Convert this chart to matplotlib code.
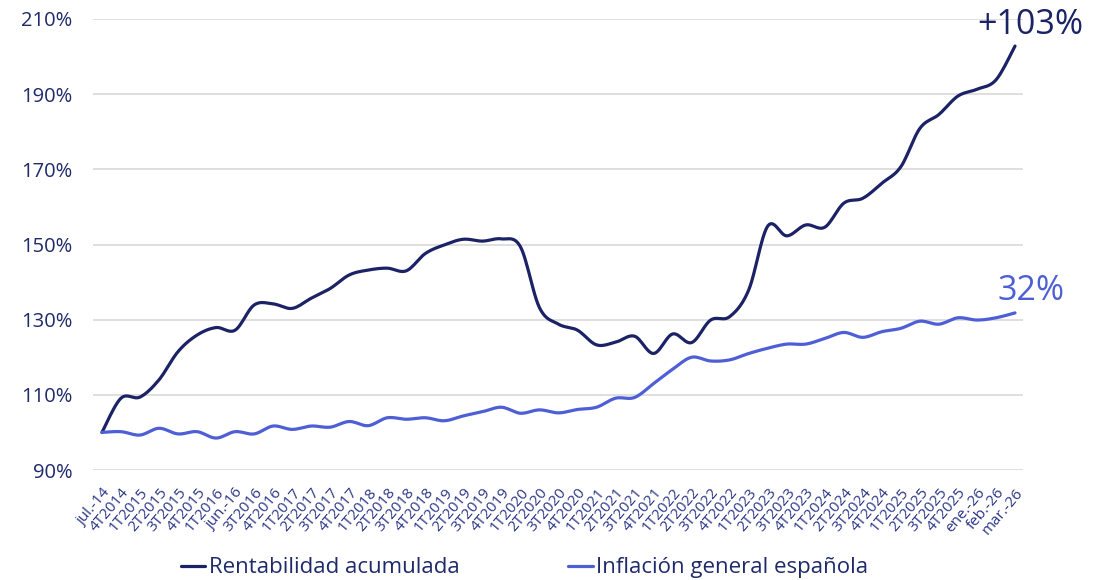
import numpy as np
import matplotlib
matplotlib.use("Agg")
import matplotlib.pyplot as plt

plt.rcParams['font.family'] = ['Open Sans', 'DejaVu Sans']

labels = ["jul.-14", "4T2014", "1T2015", "2T2015", "3T2015", "4T2015", "1T2016", "jun.-16",
          "3T2016", "4T2016", "1T2017", "2T2017", "3T2017", "4T2017", "1T2018", "2T2018",
          "3T2018", "4T2018", "1T2019", "2T2019", "3T2019", "4T2019", "1T2020", "2T2020",
          "3T2020", "4T2020", "1T2021", "2T2021", "3T2021", "4T2021", "1T2022", "2T2022",
          "3T2022", "4T2022", "1T2023", "2T2023", "3T2023", "4T2023", "1T2024", "2T2024",
          "3T2024", "4T2024", "1T2025", "2T2025", "3T2025", "4T2025", "ene.-26", "feb.-26", "mar.-26"]

rentabilidad = [100.0, 109.1, 109.4, 114.0, 121.5, 125.9, 127.9, 127.2, 133.9, 134.2,
                133.0, 135.7, 138.3, 141.9, 143.2, 143.7, 143.0, 147.6, 149.9, 151.4,
                150.9, 151.5, 149.4, 133.2, 128.8, 127.2, 123.3, 124.0, 125.6, 121.0,
                126.2, 123.9, 129.9, 130.8, 137.9, 154.9, 152.3, 155.2, 154.6, 161.0,
                162.3, 166.3, 170.7, 180.9, 184.6, 189.5, 191.3, 193.8, 202.8]

inflacion = [100.0, 100.2, 99.3, 101.1, 99.6, 100.2, 98.5, 100.2, 99.6, 101.7,
             100.8, 101.7, 101.4, 102.9, 101.8, 103.9, 103.5, 103.9, 103.1, 104.4,
             105.5, 106.7, 105.1, 106.0, 105.2, 106.1, 106.7, 109.1, 109.3, 113.0,
             116.8, 120.0, 119.0, 119.3, 121.0, 122.4, 123.5, 123.5, 125.0, 126.6,
             125.3, 126.8, 127.7, 129.6, 128.8, 130.5, 129.9, 130.5, 131.8]

series_names = ["Rentabilidad acumulada", "Inflación general española"]
yticks = [90, 110, 130, 150, 170, 190, 210]
annot_rent = "+103%"
annot_inf = "32%"

C_DARK = "#1b2266"
C_LIGHT = "#4e5fd6"
C_TEXT = "#1f2a6b"


def smooth(y, n=12):
    """Catmull-Rom rendering of the polyline (like a smoothed-line chart)."""
    y = np.asarray(y, float)
    x = np.arange(len(y), dtype=float)
    P = np.concatenate([[y[0]], y, [y[-1]]])
    X = np.concatenate([[x[0]], x, [x[-1]]])
    xs, ys = [], []
    t = np.linspace(0, 1, n, endpoint=False)
    for i in range(1, len(P) - 2):
        p0, p1, p2, p3 = P[i - 1], P[i], P[i + 1], P[i + 2]
        q0, q1, q2, q3 = X[i - 1], X[i], X[i + 1], X[i + 2]
        def cr(a0, a1, a2, a3):
            return 0.5 * ((2 * a1) + (-a0 + a2) * t + (2 * a0 - 5 * a1 + 4 * a2 - a3) * t ** 2
                          + (-a0 + 3 * a1 - 3 * a2 + a3) * t ** 3)
        xs.append(cr(q0, q1, q2, q3))
        ys.append(cr(p0, p1, p2, p3))
    xs.append([x[-1]])
    ys.append([y[-1]])
    return np.concatenate(xs), np.concatenate(ys)


fig = plt.figure(figsize=(11.09, 5.80), dpi=100)
ax = fig.add_axes([93 / 1109, 110 / 580, 930 / 1109, 451 / 580])

xr, yr = smooth(rentabilidad)
xi, yi = smooth(inflacion)
l1, = ax.plot(xr, yr, color=C_DARK, lw=2.3, solid_capstyle='round', label=series_names[0], zorder=3)
l2, = ax.plot(xi, yi, color=C_LIGHT, lw=2.3, solid_capstyle='round', label=series_names[1], zorder=3)

ax.set_ylim(90, 210)
ax.set_xlim(-0.47, 48.42)
ax.set_yticks(yticks)
ax.set_yticklabels([f"{v}%" for v in yticks], fontsize=14.5, color=C_TEXT)
ax.set_xticks(range(len(labels)))
ax.set_xticklabels(labels, rotation=50, ha='right', rotation_mode='anchor',
                   fontsize=11, color="#2b3687")
ax.tick_params(axis='y', length=0, pad=15)
ax.tick_params(axis='x', length=0, pad=11)
ax.grid(axis='y', color='#d9d9d9', lw=1.2)
ax.set_axisbelow(True)
for s in ax.spines.values():
    s.set_visible(False)

ax.annotate(annot_rent, xy=(len(rentabilidad) - 1, rentabilidad[-1]), xytext=(-27, 15),
            textcoords='offset points', fontsize=24.5, color=C_DARK, va='center', ha='left')
ax.annotate(annot_inf, xy=(len(inflacion) - 1, inflacion[-1]), xytext=(-13, 15.5),
            textcoords='offset points', fontsize=24.5, color=C_LIGHT, va='center', ha='left')

fig.legend(handles=[l1, l2], loc='center', bbox_to_anchor=(0.473, 0.021), ncol=2,
           frameon=False, fontsize=16, labelcolor=C_TEXT, handlelength=1.1,
           handletextpad=0.15, columnspacing=4.9)

fig.savefig("out.png", dpi=100)
